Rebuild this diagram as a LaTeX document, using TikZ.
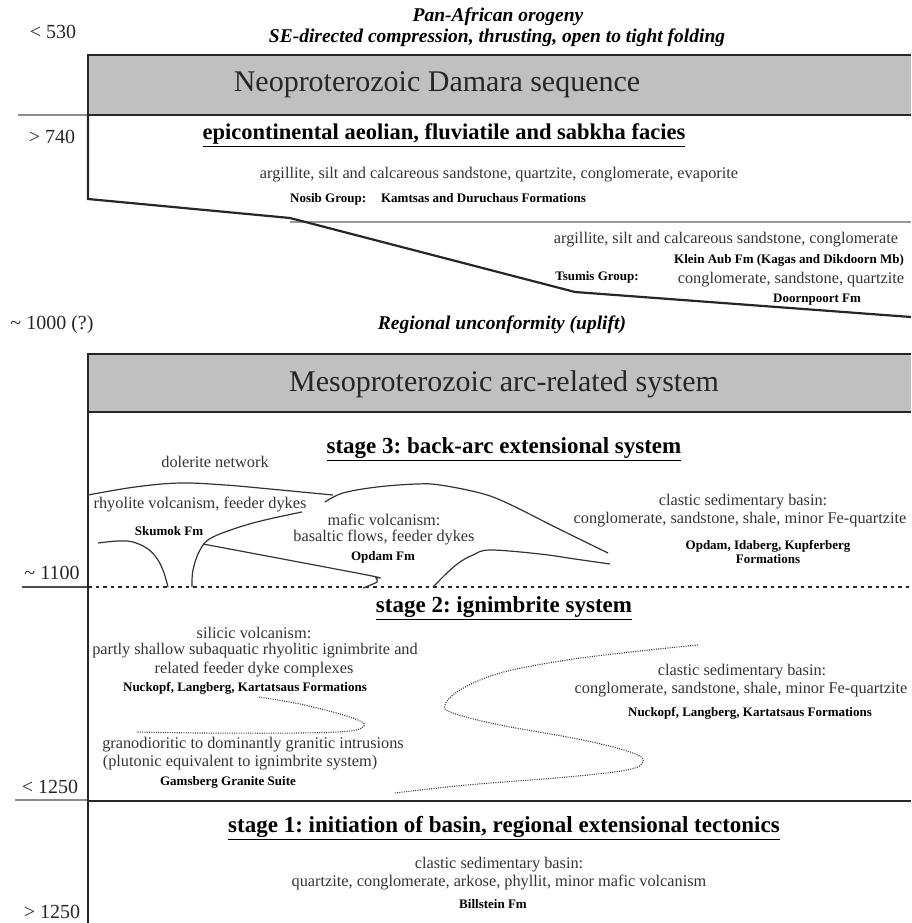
\documentclass[tikz,border=0pt]{standalone}
\usepackage{fontspec}
\setmainfont{Liberation Serif}
\definecolor{boxgray}{HTML}{C0C0C0}
\frenchspacing
\begin{document}
\begin{tikzpicture}[x=1pt,y=-1pt,
  lbl/.style={font=\fontsize{20}{22}\selectfont, inner sep=0pt, text=black!85},
  ttl/.style={font=\fontsize{30}{34}\selectfont, inner sep=0pt, text=black!85},
  hdr/.style={font=\bfseries\fontsize{22.5}{26}\selectfont, inner sep=0pt},
  sthdr/.style={font=\bfseries\fontsize{23}{26}\selectfont, inner sep=0pt},
  txt/.style={font=\fontsize{16.3}{19}\selectfont, inner sep=0pt, text=black!80},
  fm/.style={font=\bfseries\fontsize{13}{15}\selectfont, inner sep=0pt},
  itl/.style={font=\bfseries\itshape\fontsize{19.5}{22}\selectfont, inner sep=0pt},
  bnd/.style={line width=2.2pt, draw=black!85, line join=miter},
  crv/.style={line width=1.2pt, draw=black!80},
  fdot/.style={line width=1.1pt, draw=black!80, dash pattern=on 1pt off 1.3pt},
  tick/.style={line width=1.2pt, draw=black!45}]
\useasboundingbox (0,0) rectangle (911,923);
% boxes
\fill[boxgray] (88,55) rectangle (911,115);
\fill[boxgray] (88,354) rectangle (911,412);
% ticks
\draw[tick] (18,115) -- (88,115);
\draw[tick, draw=black!70] (22,587) -- (88,587);
\draw[tick] (15,800) -- (88,800);
\draw[line width=1.2pt, draw=black!40] (290,222) -- (911,222);
% Neoproterozoic frame and unconformity
\draw[bnd] (911,55) -- (88,55) -- (88,115) -- (911,115);
\draw[bnd] (88,115) -- (88,199) -- (290,218) -- (575,292) -- (911,317);
% Mesoproterozoic frame
\draw[bnd] (911,354) -- (88,354) -- (88,923);
\draw[bnd] (88,412) -- (911,412);
\draw[bnd] (88,801) -- (911,801);
% stage 3/2 boundary
\draw[line width=2pt, draw=black!85, dash pattern=on 3.5pt off 4pt] (88,587) -- (911,587);
% stage 3 curves
\draw[crv] plot[smooth, tension=0.6] coordinates {(88,495) (135,487) (180,483) (225,485) (270,489) (333,495)};
\draw[crv] plot[smooth, tension=0.6] coordinates {(325,502) (343,493) (377,487) (417,484) (440,485) (480,493) (507,503) (557,528) (608,553)};
\draw[crv] plot[smooth, tension=0.6] coordinates {(433,587) (448,572) (460,562) (473,555) (490,550) (540,554) (575,559) (610,564)};
\draw[crv] plot[smooth, tension=0.6] coordinates {(98,543) (118,541) (133,542) (148,549) (158,560) (164,573) (168,587)};
\draw[crv] plot[smooth, tension=0.6] coordinates {(192,587) (193,570) (200,550) (213,537) (253,523) (302,512)};
\draw[crv] plot[smooth, tension=0.5] coordinates {(203,544) (367,575) (376,578) (377,582) (368,586) (363,588)};
% stage 2 dotted curves
\draw[fdot] plot[smooth, tension=0.6] coordinates {(259,697) (300,704) (340,714) (360,721) (364,726) (350,731) (300,733) (200,733) (137,732)};
\draw[fdot] plot[smooth, tension=0.6] coordinates {(698,645) (640,651) (567,660) (500,673) (460,690) (445,705) (453,713) (500,725) (583,740) (633,753) (643,762) (627,770) (567,777) (467,785) (395,793)};
% left labels
\node[lbl] (n530) at (53,32) {< 530};
\node[lbl] (n740) at (52,137) {> 740};
\node[lbl] (n1000) at (52,325) {\textasciitilde{} 1000 (?)};
\node[lbl] (n1100) at (52,573) {\textasciitilde{} 1100};
\node[lbl] (n1250a) at (50,787) {< 1250};
\node[lbl] (n1250b) at (52,912) {> 1250};
% top
\node[itl] (pan) at (498,17) {Pan-African orogeny};
\node[itl] (se) at (497,38) {SE-directed compression, thrusting, open to tight folding};
\node[ttl] (neo) at (437,85) {Neoproterozoic Damara sequence};
\node[hdr] (epi) at (444,135) {\underline{epicontinental aeolian, fluviatile and sabkha facies}};
\node[txt] (arg1) at (499,175) {argillite, silt and calcareous sandstone, quartzite, conglomerate, evaporite};
\node[fm] (nosib) at (438,199) {Nosib Group:\hspace{15pt}Kamtsas and Duruchaus Formations};
\node[txt] (arg2) at (726,240) {argillite, silt and calcareous sandstone, conglomerate};
\node[fm] (klein) at (789,260) {Klein Aub Fm (Kagas and Dikdoorn Mb)};
\node[fm] (tsumis) at (597,277) {Tsumis Group:};
\node[txt] (cong) at (791,280) {conglomerate, sandstone, quartzite};
\node[fm] (doorn) at (817,300) {Doornpoort Fm};
\node[itl] (unconf) at (502,325) {Regional unconformity (uplift)};
% Mesoproterozoic
\node[ttl] (meso) at (504,384) {Mesoproterozoic arc-related system};
\node[sthdr] (st3) at (504,449) {\underline{stage 3: back-arc extensional system}};
\node[txt] (dol) at (215,462) {dolerite network};
\node[txt] (rhy) at (200,505) {rhyolite volcanism, feeder dykes};
\node[fm] (sku) at (169,531) {Skumok Fm};
\node[txt] (maf1) at (384,520) {mafic volcanism:};
\node[txt] (maf2) at (384,538) {basaltic flows, feeder dykes};
\node[fm] (opd) at (383,557) {Opdam Fm};
\node[txt] (cl3a) at (743,502) {clastic sedimentary basin:};
\node[txt] (cl3b) at (740,520) {conglomerate, sandstone, shale, minor Fe-quartzite};
\node[fm] (op3a) at (768,546) {Opdam, Idaberg, Kupferberg};
\node[fm] (op3b) at (768,559) {Formations};
% stage 2
\node[sthdr] (st2) at (504,608) {\underline{stage 2: ignimbrite system}};
\node[txt] (sil1) at (254,633) {silicic volcanism:};
\node[txt] (sil2) at (255,651) {partly shallow subaquatic rhyolitic ignimbrite and};
\node[txt] (sil3) at (254,670) {related feeder dyke complexes};
\node[fm] (nuck1) at (245,688) {Nuckopf, Langberg, Kartatsaus Formations};
\node[txt] (gran1) at (253,745) {granodioritic to dominantly granitic intrusions};
\node[txt] (gran2) at (240,763) {(plutonic equivalent to ignimbrite system)};
\node[fm] (gams) at (228,782) {Gamsberg Granite Suite};
\node[txt] (cl2a) at (742,672) {clastic sedimentary basin:};
\node[txt] (cl2b) at (741,690) {conglomerate, sandstone, shale, minor Fe-quartzite};
\node[fm] (nuck2) at (750,713) {Nuckopf, Langberg, Kartatsaus Formations};
% stage 1
\node[sthdr] (st1) at (504,828) {\underline{stage 1: initiation of basin, regional extensional tectonics}};
\node[txt] (cl1a) at (499,865) {clastic sedimentary basin:};
\node[txt] (cl1b) at (499,883) {quartzite, conglomerate, arkose, phyllit, minor mafic volcanism};
\node[fm] (bill) at (493,904) {Billstein Fm};
\end{tikzpicture}
\end{document}
